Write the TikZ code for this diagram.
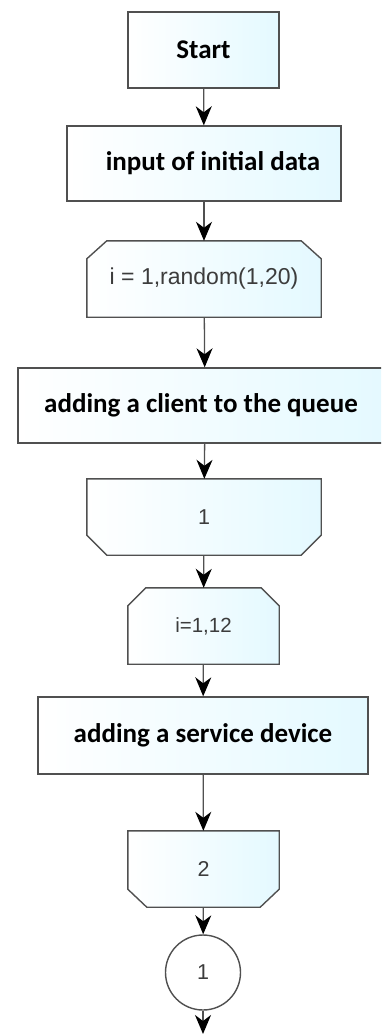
\documentclass[tikz,border=0pt]{standalone}
\usepackage{fontspec}
\setmainfont{Liberation Sans}
\newfontfamily\calfont{Carlito}
\usetikzlibrary{arrows.meta,calc,backgrounds}
\definecolor{linegray}{RGB}{80,80,80}
\definecolor{cyanish}{RGB}{228,249,255}
\definecolor{txtgray}{RGB}{60,60,60}
\begin{document}
\begin{tikzpicture}[x=1pt,y=-1pt,
  procbox/.style={draw=linegray, line width=1.4pt, left color=white, right color=cyanish,
    font=\calfont\bfseries\fontsize{27}{30}\selectfont, text=black, inner sep=0pt},
  chambox/.style={inner sep=0pt, font=\fontsize{21.5}{24}\selectfont, text=txtgray},
  chamline/.style={draw=linegray, line width=1.4pt, left color=white, right color=cyanish},
  conn/.style={draw=linegray, line width=1.3pt, -{Stealth[length=19pt,width=16pt,inset=6pt,color=black]}},
  circ/.style={circle, draw=linegray, line width=1.4pt, fill=white, inner sep=0pt,
    minimum size=75pt, font=\fontsize{21.5}{24}\selectfont, text=txtgray}
]
\useasboundingbox (0,0) rectangle (381,1034);
\clip (0,0) rectangle (381,1034);

\node[procbox, minimum width=151pt, minimum height=76pt] (start) at (203.5,50) {Start};
\node[procbox, minimum width=274pt, minimum height=75pt] (input) at (204,163.5) {\hspace*{18pt}input of initial data};
\node[chambox, minimum width=234pt, minimum height=76pt, font=\fontsize{23}{26}\selectfont] (loopa) at (204,279) {i = 1,random(1,20)};
\node[procbox, minimum width=374pt, minimum height=75pt] (client) at (205,405.5) {adding a client to the queue\hspace*{8pt}};
\node[chambox, minimum width=234pt, minimum height=76pt] (enda) at (204,517) {1};
\node[chambox, minimum width=151pt, minimum height=76pt, font=\fontsize{20.5}{24}\selectfont] (loopb) at (203.5,626) {i=1,12};
\node[procbox, minimum width=330pt, minimum height=77pt] (service) at (203,735.5) {adding a service device};
\node[chambox, minimum width=151pt, minimum height=76pt] (endb) at (203.5,869) {2};
\node[circ] (conn1) at (203,972.5) {1};
\coordinate (out) at (203,1034);

\begin{scope}[on background layer]
  \path[chamline] (loopa.south west) -- ($(loopa.north west)+(0,18)$) -- ($(loopa.north west)+(20,0)$)
    -- ($(loopa.north east)+(-20,0)$) -- ($(loopa.north east)+(0,18)$) -- (loopa.south east) -- cycle;
  \path[chamline] (enda.north west) -- ($(enda.south west)+(0,-20)$) -- ($(enda.south west)+(20,0)$)
    -- ($(enda.south east)+(-20,0)$) -- ($(enda.south east)+(0,-20)$) -- (enda.north east) -- cycle;
  \path[chamline] (loopb.south west) -- ($(loopb.north west)+(0,18)$) -- ($(loopb.north west)+(18,0)$)
    -- ($(loopb.north east)+(-18,0)$) -- ($(loopb.north east)+(0,18)$) -- (loopb.south east) -- cycle;
  \path[chamline] (endb.north west) -- ($(endb.south west)+(0,-18)$) -- ($(endb.south west)+(19,0)$)
    -- ($(endb.south east)+(-19,0)$) -- ($(endb.south east)+(0,-18)$) -- (endb.north east) -- cycle;
\end{scope}

\draw[conn] (start) -- (input);
\draw[conn] (input) -- (loopa);
\draw[conn] (loopa) -- (client);
\draw[conn] (client) -- (enda);
\draw[conn] (enda) -- (loopb);
\draw[conn] (loopb) -- (service);
\draw[conn] (service) -- (endb);
\draw[conn] (endb) -- (conn1);
\draw[conn] (conn1) -- (out);
\end{tikzpicture}
\end{document}
